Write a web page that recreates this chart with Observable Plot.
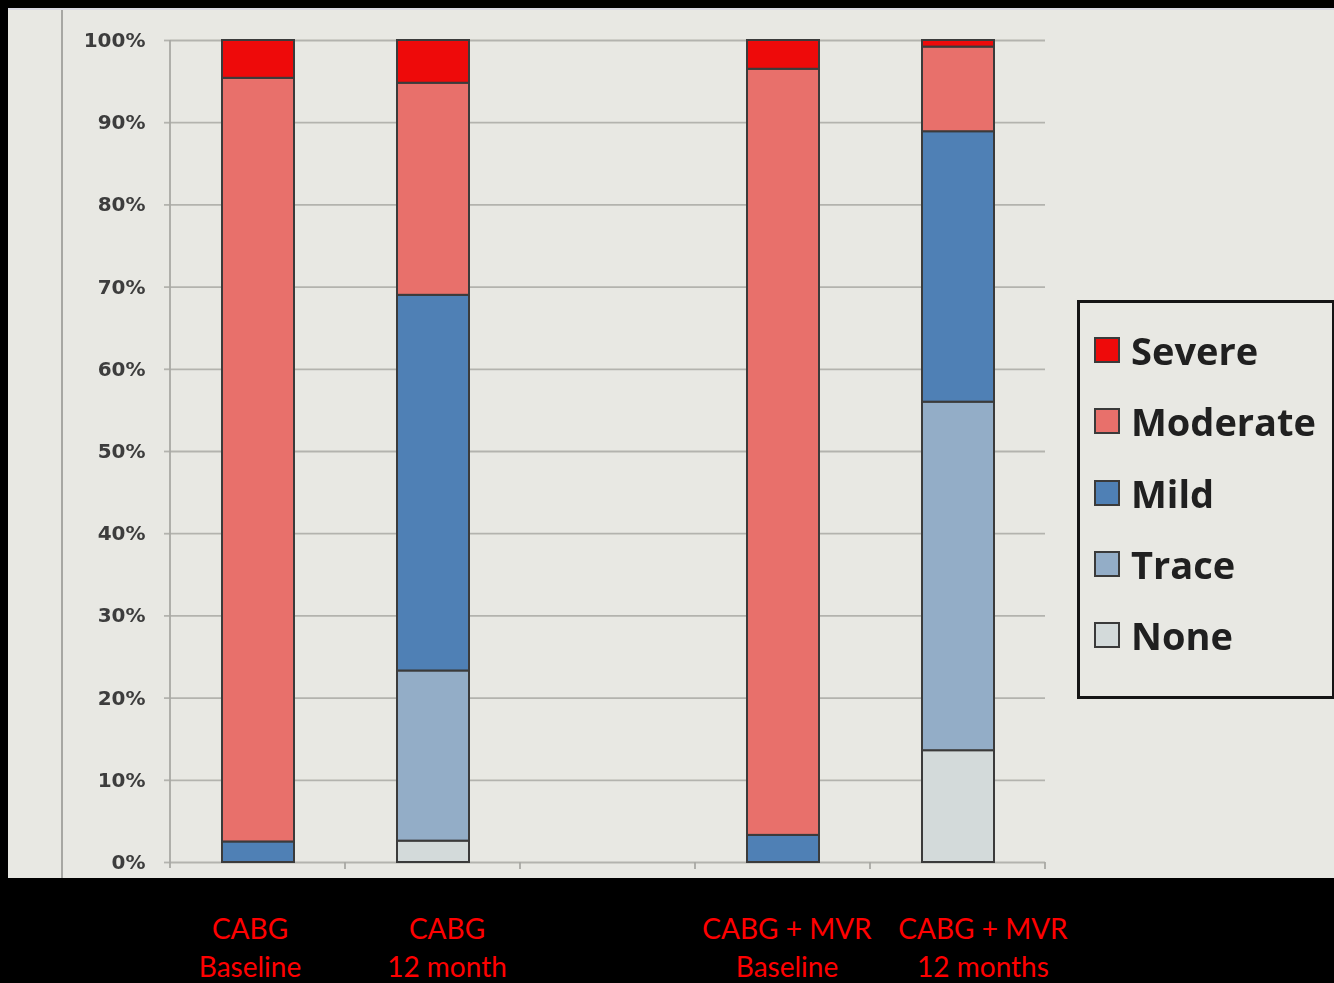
<!DOCTYPE html>
<html>
<head>
<meta charset="utf-8">
<script src="https://cdn.jsdelivr.net/npm/d3@7"></script>
<script src="https://cdn.jsdelivr.net/npm/@observablehq/plot@0.6"></script>
<style>
  html, body { margin: 0; padding: 0; background: #000; width: 1334px; height: 983px; overflow: hidden; }
  #panel { position: absolute; left: 8px; top: 8px; width: 1326px; height: 870px; background: #e8e8e3; border-top: 2px solid #d9d9e3; box-sizing: border-box; }
  #edge { position: absolute; left: 61px; top: 10px; width: 2px; height: 868px; background: #a7a7a3; filter: blur(0.6px); }
  #chart { position: absolute; left: 0; top: 0; filter: blur(0.5px); }
  #legend { position: absolute; left: 1077px; top: 300px; width: 258px; height: 399px; border: 3px solid #151515; box-sizing: border-box; filter: blur(0.5px); }
  .item { position: absolute; left: 14px; height: 40px; display: flex; align-items: center; }
  .sw { width: 26px; height: 26px; box-sizing: border-box; border: 2px solid #3a3a3a; margin-right: 11px; }
  .item span { font-family: "Open Sans", sans-serif; font-weight: 700; font-size: 38px; color: #202020; letter-spacing: 0px; }
  .lab { position: absolute; top: 909px; color: #ff0000; font-family: Lato, sans-serif; font-size: 28px; line-height: 38px; text-align: center; white-space: nowrap; transform: translateX(-50%); }
</style>
</head>
<body>
<div id="panel"></div>
<div id="edge"></div>
<div id="chart"></div>
<div id="legend"></div>
<script>
// Slots along the x axis (the empty slot separates the two groups)
const slots = ["CABG Baseline", "CABG 12 month", "", "CABG + MVR Baseline", "CABG + MVR 12 months"];
const groups = ["CABG Baseline", "CABG 12 month", "CABG + MVR Baseline", "CABG + MVR 12 months"];
const groupLabels = [["CABG", "Baseline"], ["CABG", "12 month"], ["CABG + MVR", "Baseline"], ["CABG + MVR", "12 months"]];

// Grades, bottom of the stack first
const grades = ["None", "Trace", "Mild", "Moderate", "Severe"];
const gradeColors = ["#d3dada", "#93adc7", "#4f80b5", "#e8706b", "#ee0a0a"];

// Percent of patients per grade, one value per group
const none     = [0,    2.6,  0,    13.6];
const trace    = [0,    20.7, 0,    42.4];
const mild     = [2.5,  45.7, 3.3,  32.9];
const moderate = [92.9, 25.8, 93.2, 10.3];
const severe   = [4.6,  5.2,  3.5,  0.8];

const yTicks = [0, 10, 20, 30, 40, 50, 60, 70, 80, 90, 100];

const series = [none, trace, mild, moderate, severe];
const rows = [];
groups.forEach((g, i) => {
  grades.forEach((grade, k) => rows.push({group: g, grade, value: series[k][i]}));
});

const W = 1334, H = 878;
const mL = 170, mR = 289, mT = 40, mB = 16;

// category boundary ticks and the left axis line
function frameTicks(index, scales, values, dimensions) {
  const {width, height, marginLeft, marginRight, marginTop, marginBottom} = dimensions;
  const step = (width - marginLeft - marginRight) / slots.length;
  const g = d3.create("svg:g");
  const y0 = height - marginBottom;
  g.append("line").attr("x1", marginLeft).attr("x2", marginLeft)
    .attr("y1", marginTop).attr("y2", y0 + 6)
    .attr("stroke", "#a9a9a4").attr("stroke-width", 1.8);
  for (let i = 1; i <= slots.length; ++i) {
    const x = marginLeft + i * step;
    g.append("line").attr("x1", x).attr("x2", x).attr("y1", y0).attr("y2", y0 + 7)
      .attr("stroke", "#a9a9a4").attr("stroke-width", 1.8);
  }
  return g.node();
}

const chart = Plot.plot({
  width: W,
  height: H,
  marginLeft: mL,
  marginRight: mR,
  marginTop: mT,
  marginBottom: mB,
  style: {background: "transparent", overflow: "visible"},
  x: {domain: slots, paddingInner: 0.59, paddingOuter: 0.295, axis: null},
  y: {domain: [0, 100], axis: null},
  color: {domain: grades, range: gradeColors},
  marks: [
    Plot.gridY(yTicks, {stroke: "#b3b3ae", strokeOpacity: 1, strokeWidth: 1.8}),
    Plot.axisY(yTicks, {
      label: null,
      tickSize: 6,
      tickPadding: 19,
      stroke: "#b3b3ae",
      strokeWidth: 1.8,
      tickFormat: d => d + "%",
      fontSize: 20,
      fontWeight: 700,
      fontFamily: "DejaVu Sans",
      fill: "#3d3d3d",
      letterSpacing: "-1px"
    }),
    frameTicks,
    Plot.barY(rows, {
      x: "group",
      y: "value",
      fill: "grade",
      order: grades,
      stroke: "#3b3b3b",
      strokeWidth: 2
    })
  ]
});
document.getElementById("chart").appendChild(chart);

// legend, top entry first
const legend = document.getElementById("legend");
grades.slice().reverse().forEach((grade, i) => {
  const k = grades.indexOf(grade);
  const item = document.createElement("div");
  item.className = "item";
  item.style.top = (50 + i * 71.3 - 20 - 3) + "px";
  const sw = document.createElement("div");
  sw.className = "sw";
  sw.style.background = gradeColors[k];
  const t = document.createElement("span");
  t.textContent = grade;
  item.appendChild(sw);
  item.appendChild(t);
  legend.appendChild(item);
});

// group captions under the chart
const labelCenters = [250, 447, 787, 983];
groupLabels.forEach((lines, i) => {
  const d = document.createElement("div");
  d.className = "lab";
  d.style.left = labelCenters[i] + "px";
  d.innerHTML = lines.join("<br>");
  document.body.appendChild(d);
});
</script>
</body>
</html>
